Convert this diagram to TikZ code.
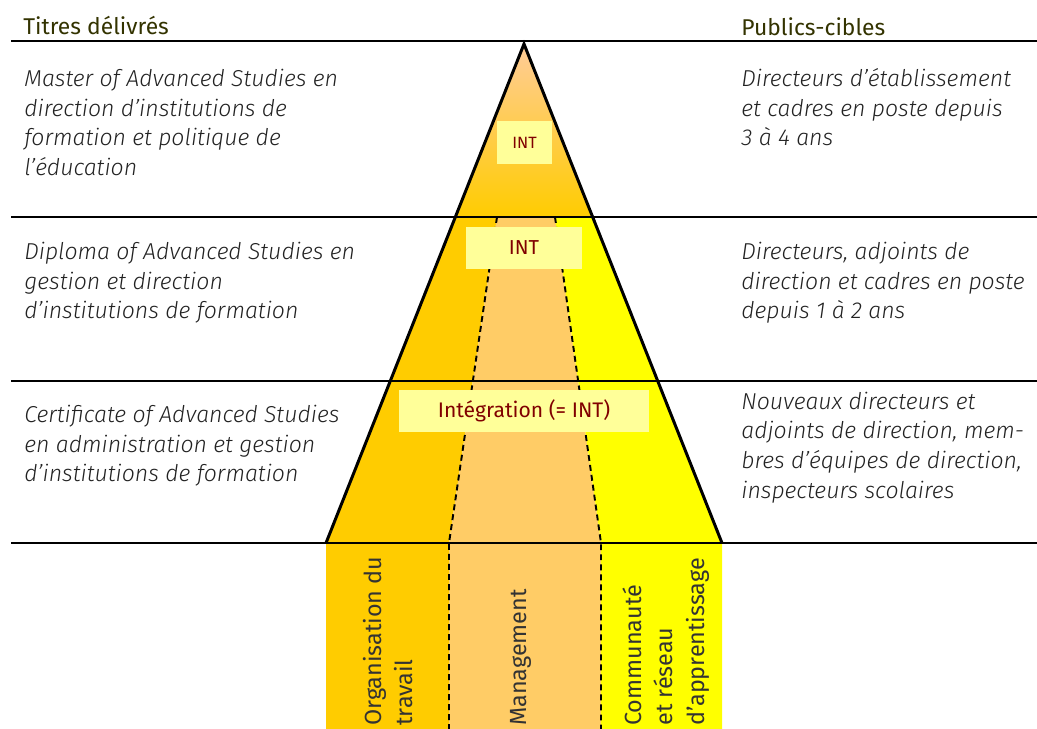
\documentclass[tikz,border=0pt]{standalone}
\usepackage{fontspec}
\setmainfont{Fira Sans}
\newfontfamily\descfont{Fira Sans Light}[ItalicFont={Fira Sans Light Italic}]
\definecolor{gold}{HTML}{FFCC00}
\definecolor{peach}{HTML}{FFCC66}
\definecolor{topc}{HTML}{FFCC99}
\definecolor{yel}{HTML}{FFFF00}
\definecolor{intbg}{HTML}{FFFF99}
\definecolor{intfg}{HTML}{800000}
\definecolor{headc}{HTML}{333300}
\definecolor{txtc}{HTML}{222222}
\newcommand\vlines[2]{\vtop{\baselineskip=#1\lineskiplimit=-20pt\halign{##\hfil\cr#2\crcr}}}
\tikzset{
  hline/.style={line width=1.4pt, black},
  outline/.style={line width=1.7pt, black, line join=miter},
  dashline/.style={line width=1.1pt, black, dash pattern=on 3.4pt off 2.3pt},
  intbox/.style={fill=intbg, text=intfg, inner sep=0pt, anchor=center},
  heading/.style={text=headc, inner sep=0pt, anchor=base west, font=\fontsize{13}{15}\selectfont},
  desc/.style={text=txtc, inner sep=0pt, anchor=base west, font=\descfont\fontsize{13.1}{16.9}\selectfont\itshape},
  collabel/.style={text=black!80, inner sep=0pt, anchor=base west, rotate=90, font=\fontsize{13.3}{18}\selectfont}
}
\begin{document}
\begin{tikzpicture}[x=0.02cm,y=-0.02cm]
\useasboundingbox (0,0) rectangle (1037,729);
% key points
\coordinate (apex) at (524,44);
\coordinate (bl) at (326,543);
\coordinate (br) at (722,543);
\coordinate (tl) at (455.36,217);
\coordinate (tr) at (592.64,217);
\coordinate (dl0) at (497,217);
\coordinate (dl1) at (449,543);
\coordinate (dl2) at (449,729);
\coordinate (dr0) at (555,217);
\coordinate (dr1) at (601,543);
\coordinate (dr2) at (601,729);
\coordinate (bbl) at (326,729);
\coordinate (bbr) at (722,729);
% fills
\shade[top color=topc, bottom color=gold] (apex) -- (tl) -- (tr) -- cycle;
\fill[gold] (tl) -- (dl0) -- (dl1) -- (dl2) -- (bbl) -- (bl) -- cycle;
\fill[peach] (dl0) -- (dr0) -- (dr1) -- (dr2) -- (dl2) -- (dl1) -- cycle;
\fill[yel] (dr0) -- (tr) -- (br) -- (bbr) -- (dr2) -- (dr1) -- cycle;
% dashed dividers
\draw[dashline] (dl0) -- (dl1) -- (dl2);
\draw[dashline] (dr0) -- (dr1) -- (dr2);
% horizontal rules
\coordinate (h1a) at (11,41);  \coordinate (h1b) at (1037,41);
\coordinate (h2a) at (11,217); \coordinate (h2b) at (1037,217);
\coordinate (h3a) at (11,381); \coordinate (h3b) at (1037,381);
\coordinate (h4a) at (11,543); \coordinate (h4b) at (1037,543);
\draw[hline] (h1a) -- (h1b);
\draw[hline] (h2a) -- (h2b);
\draw[hline] (h3a) -- (h3b);
\draw[hline] (h4a) -- (h4b);
% triangle outline
\draw[outline] (bl) -- (apex) -- (br);
% INT boxes
\node[intbox, minimum width=1.1cm, minimum height=0.86cm, font=\fontsize{9.3}{11}\selectfont] (int1) at (524.5,142.5) {INT};
\node[intbox, minimum width=2.32cm, minimum height=0.84cm, font=\fontsize{11.5}{14}\selectfont] (int2) at (524,248) {INT};
\node[intbox, minimum width=5.0cm, minimum height=0.84cm, font=\fontsize{12}{16}\selectfont] (int3) at (524,411) {Intégration (= INT)};
% headings
\node[heading] (hleft) at (23,34.5) {Titres délivrés};
\node[heading] (hright) at (741,35.5) {Publics-cibles};
% left descriptions
\node[desc] (l1) at (24,86.5) {\vlines{16.9pt}{Master of Advanced Studies en\cr direction d’institutions de\cr formation et politique de\cr l’éducation}};
\node[desc] (l2) at (24,259.5) {\vlines{16.9pt}{Diploma of Advanced Studies en\cr gestion et direction\cr d’institutions de formation}};
\node[desc] (l3) at (24,422.5) {\vlines{16.9pt}{Certificate of Advanced Studies\cr en administration et gestion\cr d’institutions de formation}};
% right descriptions
\node[desc] (r1) at (741,86.5) {\vlines{16.9pt}{Directeurs d’établissement\cr et cadres en poste depuis\cr 3 à 4 ans}};
\node[desc] (r2) at (741,259.5) {\vlines{16.9pt}{Directeurs, adjoints de\cr direction et cadres en poste\cr depuis 1 à 2 ans}};
\node[desc] (r3) at (741,409) {\vlines{16.9pt}{Nouveaux directeurs et\cr adjoints de direction, mem-\cr bres d’équipes de direction,\cr inspecteurs scolaires}};
% column labels
\node[collabel] (c1) at (381,726) {\vlines{18pt}{Organisation du\cr travail}};
\node[collabel] (c2) at (526,726) {Management};
\node[collabel] (c3) at (641,726) {\vlines{18pt}{Communauté\cr et réseau\cr d’apprentissage}};
\end{tikzpicture}
\end{document}
